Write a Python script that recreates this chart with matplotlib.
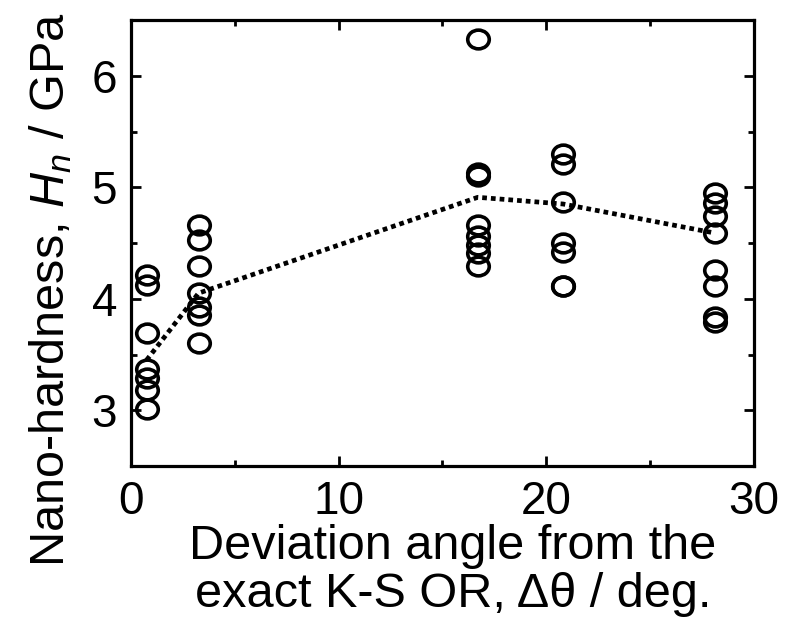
import numpy as np
import matplotlib
matplotlib.use('Agg')
import matplotlib.pyplot as plt
from matplotlib.path import Path
from matplotlib.transforms import Affine2D
from matplotlib.ticker import MultipleLocator

plt.rcParams['font.family'] = ['Liberation Sans', 'DejaVu Sans']
plt.rcParams['mathtext.fontset'] = 'custom'
plt.rcParams['mathtext.rm'] = 'Liberation Sans'
plt.rcParams['mathtext.it'] = 'Liberation Sans:italic'

# Deviation angle groups and the measured hardness for each
angle_a = [0.75] * 7
hard_a = [4.21, 4.12, 3.69, 3.37, 3.29, 3.18, 3.01]
angle_b = [3.25] * 7
hard_b = [4.66, 4.53, 4.29, 4.05, 3.93, 3.85, 3.60]
angle_c = [16.7] * 8
hard_c = [6.33, 5.13, 5.10, 4.66, 4.56, 4.48, 4.41, 4.29]
angle_d = [20.8] * 7
hard_d = [5.30, 5.21, 4.87, 4.50, 4.42, 4.11, 4.11]
angle_e = [28.1] * 8
hard_e = [4.95, 4.86, 4.74, 4.59, 4.26, 4.11, 3.84, 3.79]

# dotted trend line through the groups
trend_angle = [0.75, 3.25, 16.7, 20.8, 28.1]
trend_hard = [3.45, 4.05, 4.91, 4.85, 4.59]

all_angle = angle_a + angle_b + angle_c + angle_d + angle_e
all_hard = hard_a + hard_b + hard_c + hard_d + hard_e

# slightly flattened open circle, as in the original
ellipse = Path.unit_circle().transformed(Affine2D().scale(1.0, 0.87))

fig = plt.figure(figsize=(7.95, 6.26), dpi=100)
ax = fig.add_axes([0.1648, 0.2556, 0.7836, 0.7124])

ax.plot(trend_angle, trend_hard, color='black', linewidth=3.4,
        linestyle=(0, (1.0, 0.85)), zorder=2)
ax.plot(all_angle, all_hard, linestyle='none', marker=ellipse, markersize=15.5,
        markerfacecolor='none', markeredgecolor='black', markeredgewidth=2.6, zorder=3)

ax.set_xlim(0, 30)
ax.set_ylim(2.5, 6.5)
ax.xaxis.set_major_locator(MultipleLocator(10))
ax.xaxis.set_minor_locator(MultipleLocator(5))
ax.yaxis.set_major_locator(MultipleLocator(1))
ax.yaxis.set_minor_locator(MultipleLocator(0.5))
ax.set_yticks([3, 4, 5, 6])

for s in ax.spines.values():
    s.set_linewidth(2.3)
ax.tick_params(which='both', direction='in', top=True, right=True, width=2.0,
               labelsize=33, pad=10)
ax.tick_params(which='major', length=7)
ax.tick_params(which='minor', length=4)

ax.set_ylabel('Nano-hardness, $H_n$ / GPa', fontsize=35)
ax.yaxis.set_label_coords(-0.092, 0.395)
ax.set_xlabel('Deviation angle from the\nexact K-S OR, \u0394\u03b8 / deg.',
              fontsize=35, linespacing=1.1)
ax.xaxis.set_label_coords(0.517, -0.13)

fig.savefig('out.png', dpi=100)
